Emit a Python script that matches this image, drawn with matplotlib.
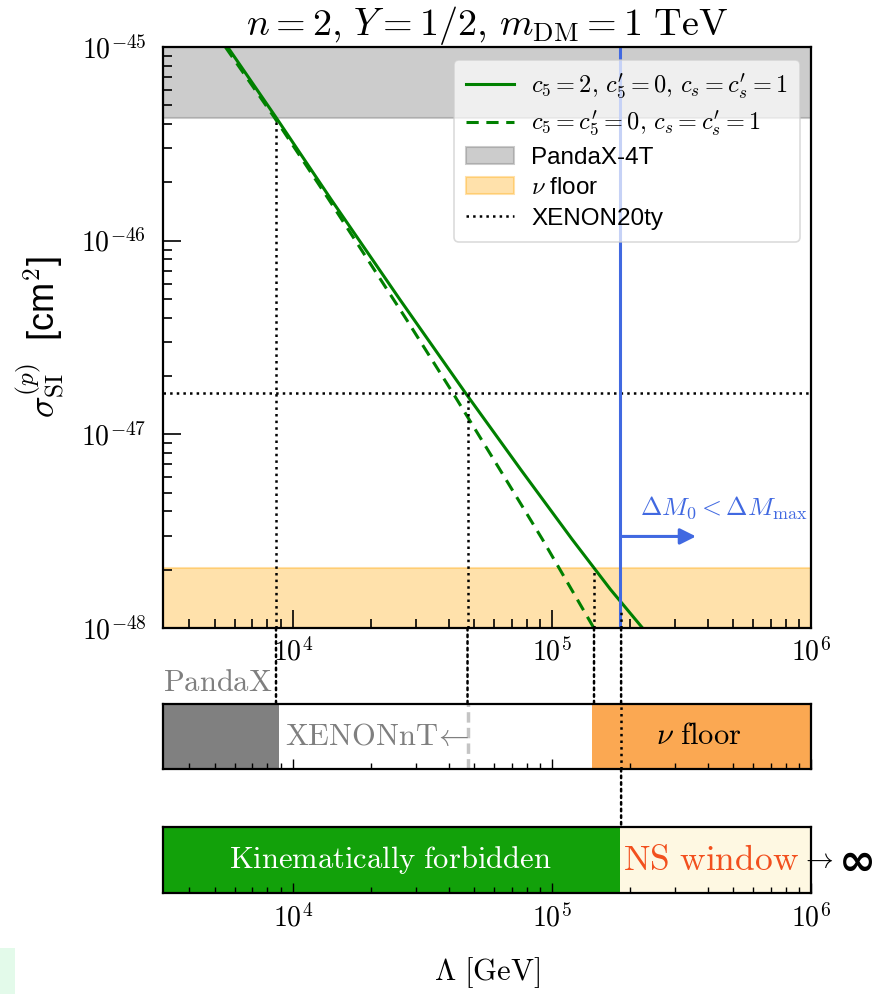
import matplotlib
matplotlib.use("Agg")
import numpy as np
import matplotlib.pyplot as plt
from matplotlib.patches import ConnectionPatch, Rectangle
from matplotlib.ticker import FixedLocator, NullFormatter, FuncFormatter

plt.rcParams['mathtext.fontset'] = 'cm'
plt.rcParams['font.family'] = ['Liberation Sans', 'DejaVu Sans']
plt.rcParams['axes.unicode_minus'] = False

# ---------------- data ----------------
lam_solid = [5616, 8630, 14060, 25900, 46540, 75810, 119770, 168500, 223900]
sig_solid = [1e-45, 4.33e-46, 1.637e-46, 4.98e-47, 1.629e-47, 6.59e-48, 2.87e-48, 1.58e-48, 1e-48]
lam_dashed = [5504, 8500, 13770, 27460, 41600, 62990, 92000, 145300]
sig_dashed = [1e-45, 4.33e-46, 1.637e-46, 3.93e-47, 1.629e-47, 6.59e-48, 2.87e-48, 1e-48]

pandax_limit = 4.3e-46
nu_floor = 2.05e-48
xenon20ty = 1.63e-47
lam_blue = 1.84e5

lam_pandax_cross = 8630
lam_xenon_cross = 47300
lam_nu_cross = 145500
sig_blue_start = 1.22e-48

bar1_pandax_end = 8900
bar1_nu_start = 1.43e5
bar2_green_end = 1.84e5

x_major = [1e4, 1e5, 1e6]
y_major = [1e-48, 1e-47, 1e-46, 1e-45]

xmin, xmax = 10**3.5, 1e6
ymin, ymax = 1e-48, 1e-45

W, H = 885, 994
fig = plt.figure(figsize=(W/100, H/100), dpi=100)

def fax(l, t, r, b):
    return fig.add_axes([l/W, 1-b/H, (r-l)/W, (b-t)/H])

ax = fax(163, 47, 811, 628)
ax1 = fax(163, 704, 811, 769)
ax2 = fax(163, 827, 811, 893)

powfmt = FuncFormatter(lambda v, p: r"$10^{%d}$" % int(round(np.log10(v))))
x_minor = [m * 10**e for e in (3, 4, 5) for m in range(2, 10) if xmin <= m * 10**e <= xmax]
y_minor = [m * 10**e for e in (-48, -47, -46) for m in range(2, 10)]

# ------------- main panel -------------
h_pdx = ax.axhspan(pandax_limit, ymax, color='gray', alpha=0.4, lw=1.5, label='PandaX-4T')
h_nu = ax.axhspan(ymin, nu_floor, color='orange', alpha=0.33, lw=1.5, label=r'$\nu$ floor')
h_s, = ax.plot(lam_solid, sig_solid, color='green', lw=2.2,
               label=r"$c_5=2,\, c_5'=0,\, c_s=c_s'=1$")
h_d, = ax.plot(lam_dashed, sig_dashed, color='green', lw=2.2, ls=(0, (4, 2.5)),
               label=r"$c_5=c_5'=0,\, c_s=c_s'=1$")
h_x = ax.axhline(xenon20ty, color='black', ls=':', lw=1.8, label='XENON20ty')
ax.axvline(lam_blue, color='royalblue', lw=2.2)
ax.vlines([lam_pandax_cross], ymin, pandax_limit, colors='black', ls=':', lw=1.8)
ax.vlines([lam_xenon_cross], ymin, xenon20ty, colors='black', ls=':', lw=1.8)
ax.vlines([lam_nu_cross], ymin, nu_floor, colors='black', ls=':', lw=1.8)
ax.vlines([lam_blue * 1.006], ymin, sig_blue_start, colors='black', ls=':', lw=1.8)

ax.set_xscale('log'); ax.set_yscale('log')
ax.set_xlim(xmin, xmax); ax.set_ylim(ymin, ymax)
ax.xaxis.set_major_locator(FixedLocator(x_major))
ax.xaxis.set_minor_locator(FixedLocator(x_minor))
ax.yaxis.set_major_locator(FixedLocator(y_major))
ax.yaxis.set_minor_locator(FixedLocator(y_minor))
ax.tick_params(which='both', direction='in', top=False, right=False, width=1.2,
               labelsize=20)
ax.tick_params(which='major', length=13)
ax.tick_params(which='minor', length=6.5)
ax.tick_params(axis='y', pad=12)
ax.tick_params(axis='x', pad=7)
ax.yaxis.set_major_formatter(powfmt)
ax.xaxis.set_major_formatter(powfmt)
ax.yaxis.set_minor_formatter(NullFormatter())
ax.xaxis.set_minor_formatter(NullFormatter())
for s in ax.spines.values():
    s.set_linewidth(1.6)

ax.set_title(r"$n=2,\, Y=1/2,\, m_{\rm DM}=1\ {\rm TeV}$", fontsize=27.5, pad=5)
ax.set_ylabel(r"$\sigma_{\rm SI}^{(p)}$  [cm$^{\mathsf{2}}$]", fontsize=26, labelpad=10)

ax.annotate('', xy=(3.6e5, 2.97e-48), xytext=(lam_blue * 1.01, 2.97e-48),
            arrowprops=dict(arrowstyle='-|>', color='royalblue', lw=2.2,
                            mutation_scale=24, shrinkA=0, shrinkB=0))
ax.text(4.6e5, 4.2e-48, r"$\Delta M_0 < \Delta M_{\rm max}$", color='royalblue',
        fontsize=18.5, ha='center', va='center')

leg = ax.legend([h_s, h_d, h_pdx, h_nu, h_x],
                [h.get_label() for h in (h_s, h_d, h_pdx, h_nu, h_x)],
                loc='upper right', fontsize=17.5, framealpha=0.7, edgecolor='#cccccc',
                fancybox=True, handlelength=2.0, handletextpad=0.7, borderpad=0.5,
                labelspacing=0.35, borderaxespad=0,
                bbox_to_anchor=(0.983, 0.978))
leg.get_frame().set_linewidth(1.2)

# ------------- bars -------------
for a in (ax1, ax2):
    a.set_xscale('log')
    a.set_xlim(xmin, xmax)
    a.set_ylim(0, 1)
    a.set_yticks([])
    a.xaxis.set_major_locator(FixedLocator(x_major))
    a.xaxis.set_minor_locator(FixedLocator(x_minor))
    a.tick_params(which='both', direction='in', top=False, width=1.0, labelsize=20, pad=8)
    a.tick_params(which='major', length=7)
    a.tick_params(which='minor', length=4)
    a.xaxis.set_major_formatter(powfmt)
    a.xaxis.set_minor_formatter(NullFormatter())
    for s in a.spines.values():
        s.set_linewidth(1.6)

ax1.axvspan(xmin, bar1_pandax_end, color='gray', lw=0)
ax1.axvspan(bar1_nu_start, xmax, color='#FBA852', lw=0)
ax1.vlines([lam_xenon_cross], 0, 1, colors='#c4c4c4', ls=(0, (3, 1.5)), lw=2.5)
ax1.tick_params(labelbottom=False)
ax1.text(0.188, 0.5, r"$\mathrm{XENONnT}\!\leftarrow$", color='#7f7f7f', fontsize=22,
         transform=ax1.transAxes, ha='left', va='center')
ax1.text(0.826, 0.5, r"$\nu\ \mathrm{floor}$", color='black', fontsize=22,
         transform=ax1.transAxes, ha='center', va='center')
ax1.text(0.0, 1.32, r"$\mathrm{PandaX}$", color='#7f7f7f', fontsize=22,
         transform=ax1.transAxes, ha='left', va='center')
ax1.vlines([lam_blue * 1.006], 0, 1, colors='black', ls=':', lw=1.8)

ax2.axvspan(xmin, bar2_green_end, color='#12A10A', lw=0)
ax2.axvspan(bar2_green_end, xmax, color='#FEF8E2', lw=0)
ax2.text(0.350, 0.5, r"$\mathrm{Kinematically\ forbidden}$", color='white', fontsize=22,
         transform=ax2.transAxes, ha='center', va='center')
ax2.text(0.846, 0.5, r"$\mathrm{NS\ window}$", color='#F2501E', fontsize=25.5,
         transform=ax2.transAxes, ha='center', va='center')
ax2.text(1.010, 0.5, r"$\rightarrow$", color='black', fontsize=20,
         transform=ax2.transAxes, ha='center', va='center', clip_on=False)
ax2.text(1.071, 0.47, "∞", color='black', fontsize=32, fontweight='bold',
         family='DejaVu Sans', transform=ax2.transAxes, ha='center', va='center',
         clip_on=False)
ax2.set_xlabel(r"$\Lambda\ [\mathrm{GeV}]$", fontsize=22, labelpad=16)

# ------------- connecting dotted lines -------------
for lamv in (lam_pandax_cross, lam_xenon_cross, lam_nu_cross, lam_blue * 1.006):
    cp = ConnectionPatch(xyA=(lamv, ymin), coordsA=ax.transData,
                         xyB=(lamv, 1), coordsB=ax1.transData,
                         color='black', ls=':', lw=1.8)
    fig.add_artist(cp)
cp = ConnectionPatch(xyA=(lam_blue * 1.006, 0), coordsA=ax1.transData,
                     xyB=(lam_blue * 1.006, 1), coordsB=ax2.transData,
                     color='black', ls=':', lw=1.8)
fig.add_artist(cp)

fig.add_artist(Rectangle((0, 0), 15/W, 46/H, transform=fig.transFigure,
                         color='#E3FAEA', lw=0))

fig.savefig('out.png', dpi=100)
